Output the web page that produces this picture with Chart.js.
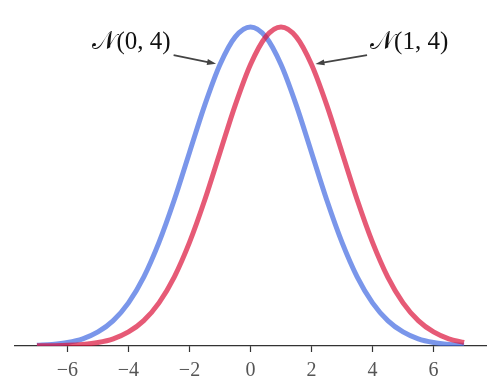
<!DOCTYPE html>
<html><head><meta charset="utf-8">
<script src="https://cdn.jsdelivr.net/npm/chart.js@4.4.0/dist/chart.umd.min.js"></script>
<style>html,body{margin:0;padding:0;background:#fff}#wrap{width:500px;height:389px}</style>
</head><body><div id="wrap"><canvas id="c" width="500" height="389"></canvas></div>
<script>
const xValues = [-7,-6.5,-6,-5.5,-5,-4.5,-4,-3.5,-3,-2.5,-2,-1.5,-1,-0.5,0,0.5,1,1.5,2,2.5,3,3.5,4,4.5,5,5.5,6,6.5,7];
const blueValues = [0.0004,0.0010,0.0022,0.0045,0.0088,0.0159,0.0270,0.0431,0.0648,0.0913,0.1210,0.1506,0.1760,0.1933,0.1995,0.1933,0.1760,0.1506,0.1210,0.0913,0.0648,0.0431,0.0270,0.0159,0.0088,0.0045,0.0022,0.0010,0.0004];
const redValues = [0.0001,0.0002,0.0004,0.0010,0.0022,0.0045,0.0088,0.0159,0.0270,0.0431,0.0648,0.0913,0.1210,0.1506,0.1760,0.1933,0.1995,0.1933,0.1760,0.1506,0.1210,0.0913,0.0648,0.0431,0.0270,0.0159,0.0088,0.0045,0.0022];
const seriesLabels = ['\u{1D4A9}(0, 4)', '\u{1D4A9}(1, 4)'];
const tickValues = [-6,-4,-2,0,2,4,6];
const tickLabels = ['\u22126','\u22124','\u22122','0','2','4','6'];

const annotations = [
  {text: seriesLabels[0], tx: -3.9, ty: 0.190, ax: -1.0, ay: 0.176, from: 'right'},
  {text: seriesLabels[1], tx: 5.2, ty: 0.190, ax: 2.0, ay: 0.176, from: 'left'}
];

const annotate = {
  id: 'annotate',
  afterDatasetsDraw(chart) {
    const {ctx, scales:{x, y}} = chart;
    ctx.save();
    ctx.font = '25px "Liberation Serif", "DejaVu Serif", serif';
    ctx.textAlign = 'center';
    ctx.textBaseline = 'middle';
    annotations.forEach(a => {
      const px = x.getPixelForValue(a.tx), py = y.getPixelForValue(a.ty);
      ctx.fillStyle = '#111';
      ctx.fillText(a.text, px, py);
      const w = ctx.measureText(a.text).width;
      const sx = a.from === 'right' ? px + w/2 + 3 : px - w/2 - 3;
      const sy = py + 13;
      let ex = x.getPixelForValue(a.ax), ey = y.getPixelForValue(a.ay);
      const ang = Math.atan2(ey - sy, ex - sx);
      ex -= Math.cos(ang) * 4; ey -= Math.sin(ang) * 4;
      ctx.strokeStyle = '#444'; ctx.fillStyle = '#444'; ctx.lineWidth = 1.8;
      ctx.beginPath(); ctx.moveTo(sx, sy);
      ctx.lineTo(ex - Math.cos(ang)*6, ey - Math.sin(ang)*6); ctx.stroke();
      ctx.beginPath();
      ctx.moveTo(ex, ey);
      ctx.lineTo(ex - Math.cos(ang)*9 + Math.sin(ang)*3, ey - Math.sin(ang)*9 - Math.cos(ang)*3);
      ctx.lineTo(ex - Math.cos(ang)*9 - Math.sin(ang)*3, ey - Math.sin(ang)*9 + Math.cos(ang)*3);
      ctx.closePath(); ctx.fill();
    });
    ctx.restore();
  }
};

new Chart(document.getElementById('c'), {
  type: 'line',
  data: {
    datasets: [
      {label: seriesLabels[0], data: xValues.map((v,i)=>({x:v, y:blueValues[i]})), borderColor: 'rgba(65,105,225,0.7)', borderWidth: 5, pointRadius: 0, cubicInterpolationMode: 'monotone', order: 2},
      {label: seriesLabels[1], data: xValues.map((v,i)=>({x:v, y:redValues[i]})), borderColor: 'rgba(220,20,60,0.7)', borderWidth: 5, pointRadius: 0, cubicInterpolationMode: 'monotone', order: 1}
    ]
  },
  options: {
    responsive: false, animation: false,
    layout: {padding: {left: 15, right: 14, top: 11, bottom: 0}},
    plugins: {legend: {display: false}, tooltip: {enabled: false}},
    scales: {
      x: {
        type: 'linear', min: -7.72, max: 7.72,
        afterBuildTicks: s => { s.ticks = tickValues.map(v => ({value: v})); },
        afterFit: s => { s.height = 43; },
        border: {display: true, color: '#333', width: 1.2},
        grid: {display: true, drawOnChartArea: false, drawTicks: true, tickLength: 6, color: '#333', tickWidth: 1.2},
        ticks: {
          callback: (v) => tickLabels[tickValues.indexOf(v)],
          color: '#555', padding: 7, maxRotation: 0, autoSkip: false,
          font: {family: '"Liberation Serif", "DejaVu Serif", serif', size: 20}
        }
      },
      y: {display: false, min: 0, max: 0.2095}
    }
  },
  plugins: [annotate]
});
</script></body></html>
